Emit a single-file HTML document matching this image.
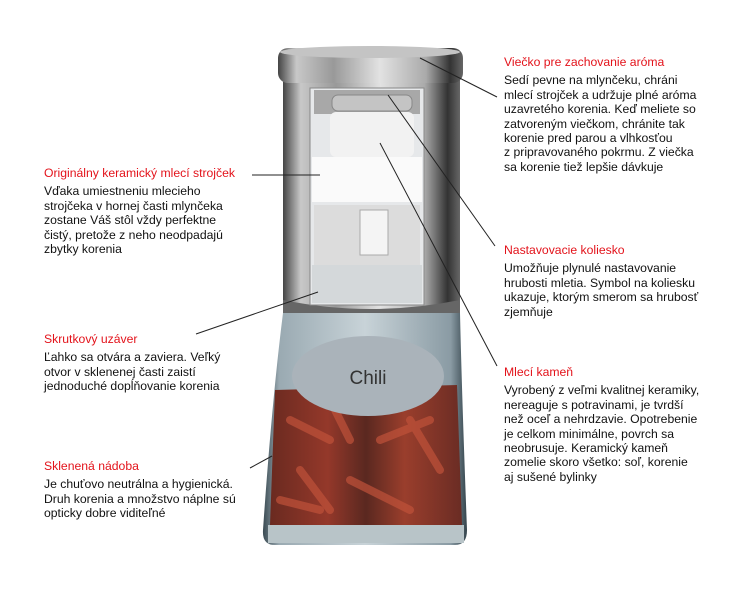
<!DOCTYPE html>
<html><head><meta charset="utf-8"><style>
body{margin:0;width:750px;height:600px;background:#fff;position:relative;overflow:hidden;font-family:"Liberation Sans",sans-serif;}
.t{position:absolute;font-size:12.2px;line-height:14.4px;color:#111;white-space:nowrap;}
.t b{display:block;font-weight:normal;color:#e3131b;margin-bottom:4px;}
svg{position:absolute;left:0;top:0}
</style></head><body>
<svg width="750" height="600">
<defs>
<linearGradient id="m" x1="0" x2="1"><stop offset="0" stop-color="#444"/><stop offset=".1" stop-color="#c8c8c8"/><stop offset=".3" stop-color="#999"/><stop offset=".55" stop-color="#e2e2e2"/><stop offset=".8" stop-color="#aaa"/><stop offset=".93" stop-color="#333"/><stop offset="1" stop-color="#666"/></linearGradient>
<linearGradient id="g" x1="0" x2="1"><stop offset="0" stop-color="#3a4a52"/><stop offset=".08" stop-color="#9aaab2"/><stop offset=".5" stop-color="#c8d3d8"/><stop offset=".92" stop-color="#8a9ba4"/><stop offset="1" stop-color="#34444c"/></linearGradient>
<linearGradient id="c" x1="0" x2="1"><stop offset="0" stop-color="#6a2a20"/><stop offset=".3" stop-color="#94382a"/><stop offset=".5" stop-color="#5a2820"/><stop offset=".7" stop-color="#9a3e2c"/><stop offset="1" stop-color="#6a2c24"/></linearGradient>
</defs>
<rect x="283" y="80" width="177" height="233" fill="url(#m)"/>
<path d="M283 300 Q371 318 460 300 L460 313 Q371 325 283 313Z" fill="#666"/>
<rect x="310" y="88" width="114" height="217" fill="#e6e8ea" stroke="#888"/>
<rect x="314" y="90" width="106" height="24" fill="#a8a8a8"/>
<rect x="332" y="95" width="80" height="16" rx="6" fill="#c4c4c4" stroke="#888"/>
<rect x="330" y="112" width="84" height="45" rx="6" fill="#f2f2f2"/>
<rect x="312" y="157" width="110" height="45" fill="#fafafa"/>
<rect x="314" y="205" width="106" height="60" fill="#dcdcdc"/>
<rect x="360" y="210" width="28" height="45" fill="#f4f4f4" stroke="#aaa"/>
<rect x="312" y="265" width="110" height="38" fill="#d4d8da"/>
<rect x="278" y="48" width="185" height="35" rx="10" fill="url(#m)"/>
<ellipse cx="370" cy="52" rx="90" ry="6" fill="#c4c4c4"/>
<path d="M283 313 L460 313 Q462 400 467 530 Q467 545 455 545 L275 545 Q262 545 263 530 Q272 400 283 313Z" fill="url(#g)"/>
<path d="M275 390 L457 385 L462 525 L270 525Z" fill="url(#c)"/>
<path d="M290 420 l40 20 M350 480 l60 30 M300 470 l30 40 M410 420 l30 50 M330 400 l20 40 M380 440 l50 -20 M280 500 l40 10" stroke="#c0523a" stroke-width="8" stroke-linecap="round" opacity=".7"/>
<rect x="268" y="525" width="196" height="18" fill="#b8c4c8"/>
<ellipse cx="368" cy="376" rx="76" ry="40" fill="#aab3ba"/>
<text x="368" y="384" text-anchor="middle" font-family="Liberation Sans" font-size="19" fill="#333">Chili</text>
<g stroke="#222" stroke-width="1">
<line x1="420" y1="58" x2="497" y2="97"/>
<line x1="252" y1="175" x2="320" y2="175"/>
<line x1="388" y1="95" x2="495" y2="246"/>
<line x1="380" y1="143" x2="497" y2="366"/>
<line x1="196" y1="334" x2="318" y2="292"/>
<line x1="250" y1="468" x2="272" y2="456"/>
</g>
</svg>
<div class="t" style="left:44px;top:166px"><b>Originálny keramický mlecí strojček</b>Vďaka umiestneniu mlecieho<br>strojčeka v hornej časti mlynčeka<br>zostane Váš stôl vždy perfektne<br>čistý, pretože z neho neodpadajú<br>zbytky korenia</div>
<div class="t" style="left:44px;top:332px"><b>Skrutkový uzáver</b>Ľahko sa otvára a zaviera. Veľký<br>otvor v sklenenej časti zaistí<br>jednoduché dopĺňovanie korenia</div>
<div class="t" style="left:44px;top:459px"><b>Sklenená nádoba</b>Je chuťovo neutrálna a hygienická.<br>Druh korenia a množstvo náplne sú<br>opticky dobre viditeľné</div>
<div class="t" style="left:504px;top:55px"><b>Viečko pre zachovanie aróma</b>Sedí pevne na mlynčeku, chráni<br>mlecí strojček a udržuje plné aróma<br>uzavretého korenia. Keď meliete so<br>zatvoreným viečkom, chránite tak<br>korenie pred parou a vlhkosťou<br>z pripravovaného pokrmu. Z viečka<br>sa korenie tiež lepšie dávkuje</div>
<div class="t" style="left:504px;top:243px"><b>Nastavovacie koliesko</b>Umožňuje plynulé nastavovanie<br>hrubosti mletia. Symbol na koliesku<br>ukazuje, ktorým smerom sa hrubosť<br>zjemňuje</div>
<div class="t" style="left:504px;top:365px"><b>Mlecí kameň</b>Vyrobený z veľmi kvalitnej keramiky,<br>nereaguje s potravinami, je tvrdší<br>než oceľ a nehrdzavie. Opotrebenie<br>je celkom minimálne, povrch sa<br>neobrusuje. Keramický kameň<br>zomelie skoro všetko: soľ, korenie<br>aj sušené bylinky</div>
</body></html>
